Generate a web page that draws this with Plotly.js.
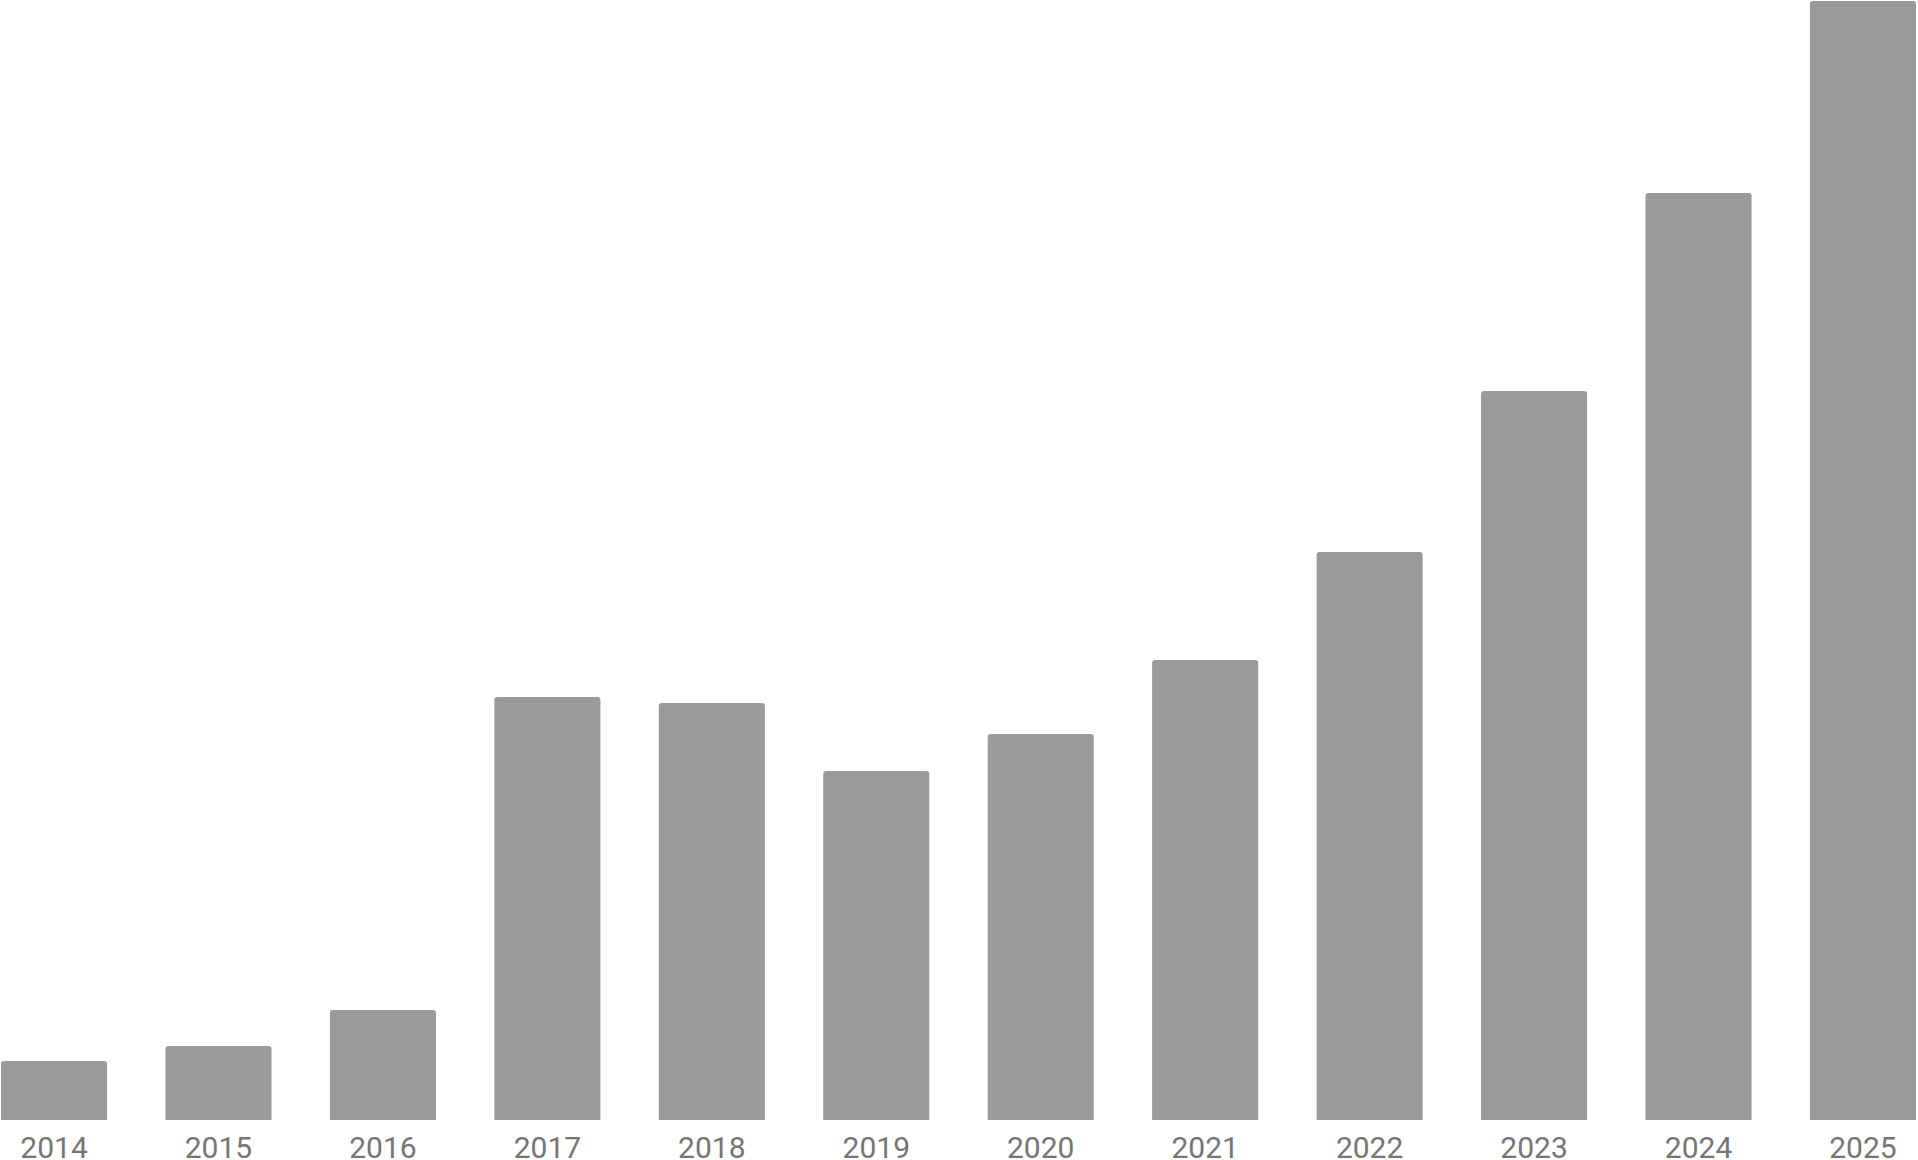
<!DOCTYPE html>
<html>
<head>
<meta charset="utf-8">
<script src="https://cdn.plot.ly/plotly-3.0.1.min.js"></script>
<style>
  html, body { margin: 0; padding: 0; background: #fff; }
  #chart { width: 1918px; height: 1160px; }
</style>
</head>
<body>
<div id="chart"></div>
<script>
// years along the bottom, one bar each
var years = ['2014', '2015', '2016', '2017', '2018', '2019', '2020', '2021', '2022', '2023', '2024', '2025'];
// bar heights (no value axis shown, so units are relative)
var values = [59, 74, 110, 423, 417, 349, 386, 460, 568, 729, 927, 1119];

var barGap = 0.355;
var half = (1 - barGap) / 2;

var trace = {
  x: years,
  y: values,
  type: 'bar',
  marker: { color: '#9a9a9a', cornerradius: 3, line: { width: 0 } },
  hoverinfo: 'x+y'
};

var layout = {
  width: 1918,
  height: 1160,
  margin: { l: 1, r: 2, t: 1, b: 40, pad: 0 },
  paper_bgcolor: '#ffffff',
  plot_bgcolor: '#ffffff',
  showlegend: false,
  bargap: barGap,
  xaxis: {
    type: 'category',
    range: [-half, years.length - 1 + half],
    showgrid: false,
    zeroline: false,
    showline: false,
    ticks: '',
    tickfont: { family: 'Roboto, sans-serif', size: 30, color: '#757575' },
    ticklabelstandoff: 7
  },
  yaxis: {
    range: [0, 1119],
    visible: false,
    showgrid: false,
    zeroline: false
  }
};

Plotly.newPlot('chart', [trace], layout, { displayModeBar: false, staticPlot: true });
</script>
</body>
</html>
